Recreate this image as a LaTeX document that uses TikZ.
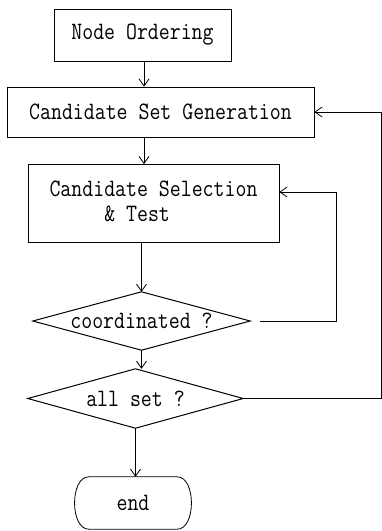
\documentclass[tikz,border=0pt]{standalone}
\usepackage{graphicx}
\usetikzlibrary{arrows.meta}
\newcommand\tx[1]{\scalebox{0.85}[1]{#1}}
\begin{document}
\begin{tikzpicture}[x=1pt,y=-1pt,
  every node/.style={font=\fontsize{25}{25}\selectfont\ttfamily},
  box/.style={draw,line width=0.8pt,inner sep=0pt},
  dia/.style={inner sep=0pt},
  diaedge/.style={line width=1pt,line join=miter},
  flow/.style={line width=0.8pt,-{Straight Barb[length=7pt,width=10pt,line width=0.8pt]}}]
\useasboundingbox (0,0) rectangle (381,531);
\node[box,minimum width=177pt,minimum height=52pt] (no) at (142.5,35) {\tx{Node Ordering}};
\node[box,minimum width=307pt,minimum height=50pt] (csg) at (160.5,112) {\tx{Candidate Set Generation}};
\node[box,minimum width=251pt,minimum height=78pt] (cst) at (153.5,203.5)
  {\tx{\begin{tabular}{@{}l@{}}Candidate Selection\\\phantom{xxxxx}\& Test\end{tabular}}};
\node[dia,minimum width=217pt,minimum height=58pt] (co) at (141.5,321) {\tx{coordinated ?}};
\draw[diaedge] (co.west) -- (co.north) -- (co.east) -- (co.south) -- cycle;
\node[dia,minimum width=215pt,minimum height=59pt] (as) at (135.5,398.5) {\tx{all set ?}};
\draw[diaedge] (as.west) -- (as.north) -- (as.east) -- (as.south) -- cycle;
\node[inner sep=0pt,minimum width=88pt,minimum height=52pt] (e) at (133,503) {\tx{end}};
\draw[line width=0.8pt] (e.north west) .. controls ([xshift=-19pt]e.north west) and ([xshift=-19pt]e.south west) .. (e.south west)
  -- (e.south east) .. controls ([xshift=19pt]e.south east) and ([xshift=19pt]e.north east) .. (e.north east) -- cycle;
\coordinate (r1) at (336,321);
\coordinate (r2) at (381.2,398.5);
\draw[flow] (144,61) coordinate (a1) -- (a1 |- csg.north);
\draw[flow] (144,137) coordinate (a2) -- (a2 |- cst.north);
\draw[flow] (co.north |- cst.south) -- (co.north);
\draw[flow] (co.south) -- (co.south |- as.north);
\draw[flow] (as.south) -- (as.south |- e.north);
\draw[flow,shorten <=10pt] (co.east) -- (r1) -- (r1 |- 0,192) -- (cst.east |- 0,192);
\draw[flow] (as.east) -- (r2) -- (r2 |- csg.east) -- (csg.east);
\end{tikzpicture}
\end{document}
